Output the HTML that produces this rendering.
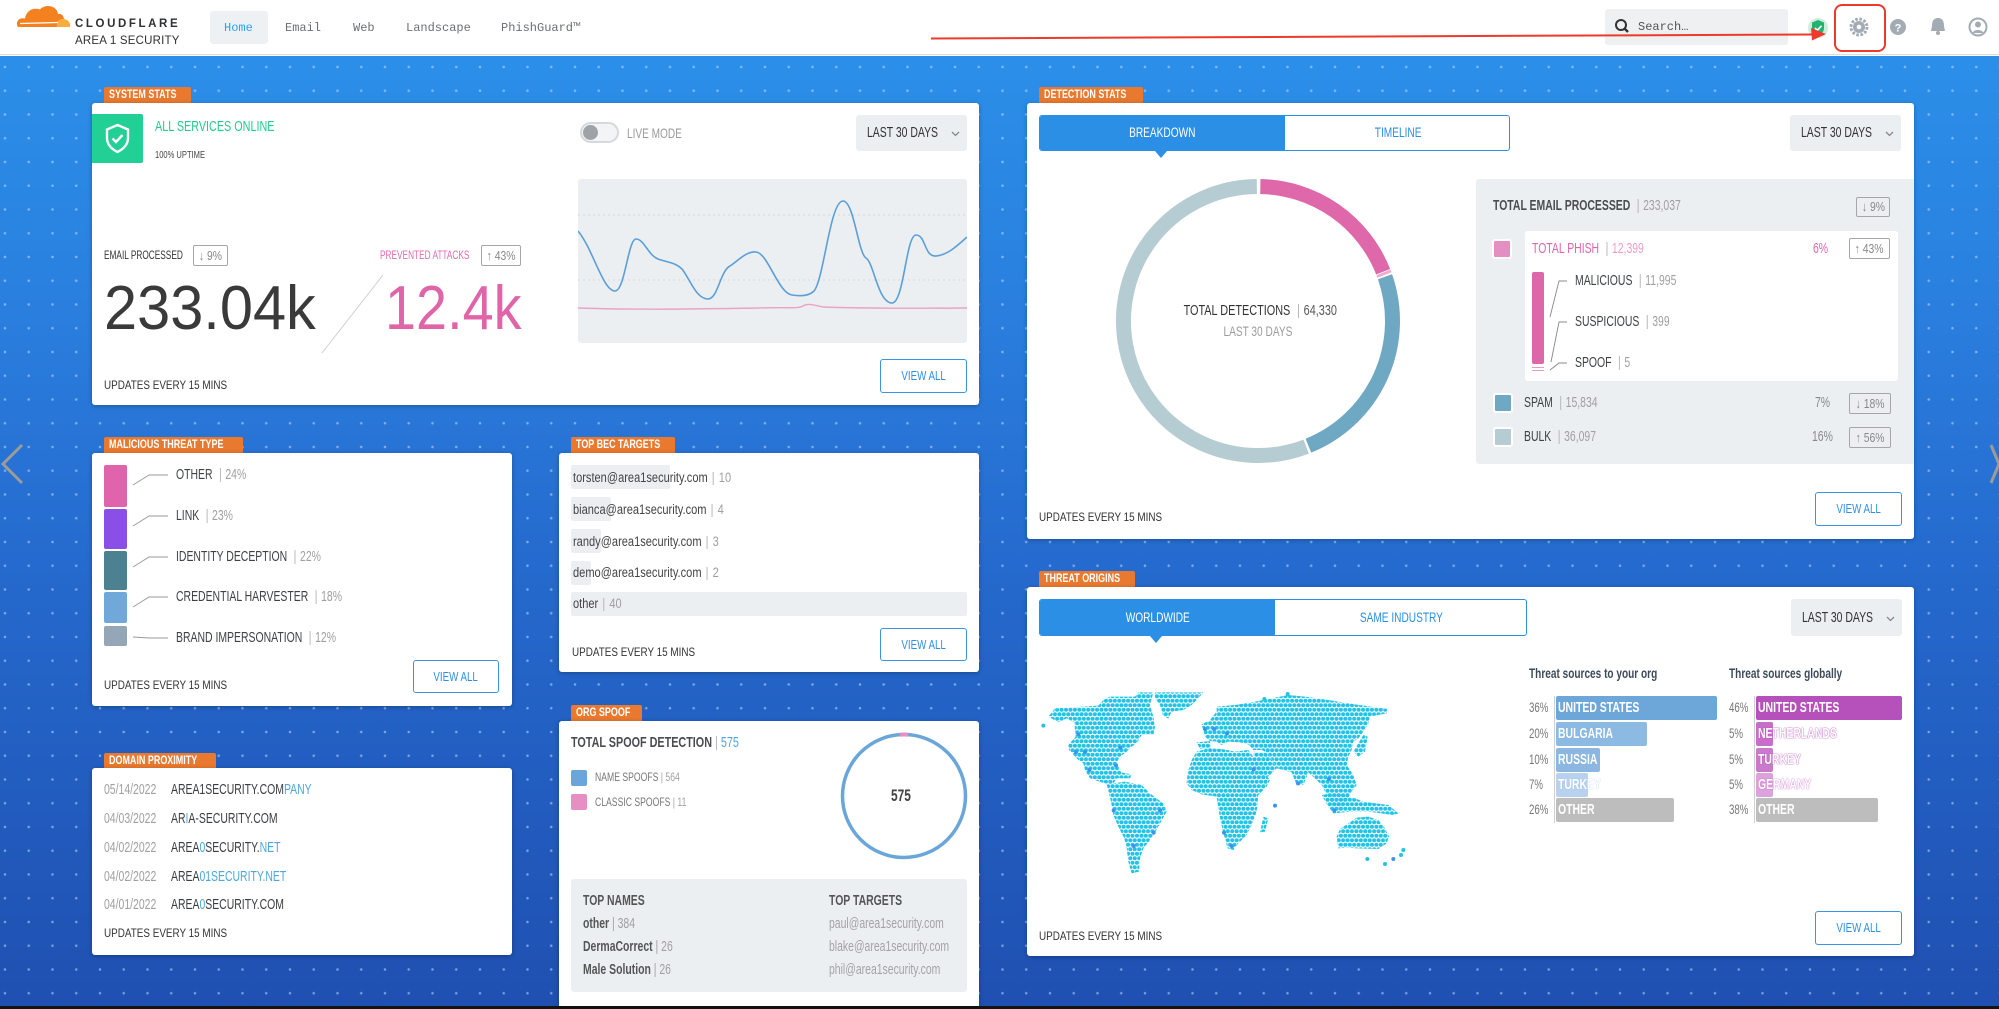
<!DOCTYPE html>
<html><head><meta charset="utf-8">
<style>
*{box-sizing:border-box;margin:0;padding:0}
body{width:1999px;height:1009px;overflow:hidden;font-family:"Liberation Sans",Arial,sans-serif;background:#fff;position:relative}
.a{position:absolute}
.t{position:absolute;white-space:nowrap;line-height:16px;height:16px}
.c{transform:scaleX(.72);transform-origin:0 50%}
.c8{transform:scaleX(.82);transform-origin:0 50%}
.card{position:absolute;background:#fff;border-radius:3px;box-shadow:0 1px 5px rgba(0,0,0,.28)}
.lab{position:absolute;height:16px;background:#e9792e;color:#fff;font-weight:bold;font-size:11.5px;line-height:16px;border-radius:2px 2px 0 0;padding-left:5px;white-space:nowrap;overflow:visible}
.lab span{display:inline-block;transform:scaleX(.78);transform-origin:0 50%}
.btn{position:absolute;border:1px solid #3b93e3;border-radius:3px;color:#2f8fe6;font-size:13px;text-align:center;background:#fff}
.btn span,.cen span{display:inline-block;transform:scaleX(.75)}
.dd{position:absolute;background:#eceff2;border-radius:3px;color:#333;font-size:13px}
.upd{position:absolute;white-space:nowrap;line-height:16px;font-size:11.5px;color:#333;transform:scaleX(.86);transform-origin:0 50%}
.g{color:#a0a0a0}
.sep{color:#b0b0b0;margin:0 5px}
.badge{position:absolute;border:1px solid #a6a6a6;border-radius:2px;color:#888;font-size:13px;text-align:center;background:transparent}
.badge span{display:inline-block;transform:scaleX(.8)}
.nav{position:absolute;top:20px;font-family:"Liberation Mono",monospace;font-size:12px;color:#6b6f73;line-height:16px}
.dk{color:#3e4245}
</style></head><body>

<!-- header -->
<div class="a" style="left:0;top:0;width:1999px;height:55px;background:#fff;border-bottom:1px solid #d6dde5"></div>
<svg class="a" style="left:0;top:0" width="80" height="34">
<path d="M18,27 C15,22 19,17 25,18.5 C26,11 33,7 40,9.5 C45,3.5 57,5.5 58,14 C62,13 65,17 63.5,21 L62,27 Z" fill="#f48120"/>
<path d="M57,27 C56,22 59,18.5 63,19 C68,19 71,23 70,27 Z" fill="#faad3f"/>
<path d="M20,23.5 L58,22.5" stroke="#fff" stroke-width="1.2"/>
</svg>
<div class="t" style="left:75px;top:16px;font-size:11.5px;font-weight:bold;letter-spacing:2.6px;color:#2e3033">CLOUDFLARE</div>
<div class="t" style="left:75px;top:33px;font-size:11.5px;letter-spacing:.2px;color:#2e3033">AREA 1 SECURITY</div>
<div class="a" style="left:210px;top:11px;width:58px;height:33px;background:#eef1f4;border-radius:3px"></div>
<div class="nav" style="left:224px;color:#2aa2f3">Home</div>
<div class="nav" style="left:285px">Email</div>
<div class="nav" style="left:353px">Web</div>
<div class="nav" style="left:406px">Landscape</div>
<div class="nav" style="left:501px">PhishGuard™</div>
<div class="a" style="left:1605px;top:9px;width:183px;height:36px;background:#eef0f2;border-radius:3px"></div>
<svg class="a" style="left:1613px;top:17px" width="20" height="20"><circle cx="8" cy="8" r="5" stroke="#333" stroke-width="2" fill="none"/><path d="M11.5,11.5 L15,15" stroke="#333" stroke-width="2.4"/></svg>
<div class="nav" style="left:1638px;top:19px;color:#555">Search…</div>
<svg class="a" style="left:1800px;top:0" width="199" height="56">
<circle cx="18" cy="28" r="10" fill="#cdeedd"/>
<path d="M18,20 L24,22.5 V28 C24,32 21,34.5 18,36 C15,34.5 12,32 12,28 V22.5 Z" fill="#23b26f"/>
<path d="M15,28 L17.3,30.3 L21.5,25.8" stroke="#fff" stroke-width="1.6" fill="none"/>
<rect x="35" y="5" width="50" height="46" rx="7" fill="none" stroke="#ee3a2b" stroke-width="2"/>
<circle cx="59" cy="27" r="8" fill="none" stroke="#a3acb5" stroke-width="3" stroke-dasharray="2.6 1.6"/>
<circle cx="59" cy="27" r="6" fill="#a3acb5"/><circle cx="59" cy="27" r="2.3" fill="#fff"/>
<circle cx="98" cy="27" r="8" fill="#a3acb5"/>
<text x="98" y="31.5" font-size="11" font-weight="bold" fill="#fff" text-anchor="middle" font-family="Liberation Sans">?</text>
<path d="M138,18 C133,18 132,22 132,26 L131,31 L145,31 L144,26 C144,22 143,18 138,18 Z" fill="#a3acb5"/><circle cx="138" cy="33" r="2" fill="#a3acb5"/>
<circle cx="178" cy="27" r="8.5" fill="none" stroke="#a3acb5" stroke-width="2"/><circle cx="178" cy="24.5" r="3" fill="#a3acb5"/><path d="M172.5,33 C174,29 182,29 183.5,33" fill="#a3acb5"/>
</svg>

<!-- background -->
<div class="a" style="left:0;top:56px;width:1999px;height:950px;background:linear-gradient(180deg,#2b8fe8 0%,#2a80df 25%,#2569cd 55%,#1f50b1 100%)"></div>
<div class="a" style="left:0;top:56px;width:1999px;height:950px;background-image:radial-gradient(circle,rgba(200,225,255,.55) 0.9px,rgba(255,255,255,0) 1.6px);background-size:23.75px 23.75px;background-position:-6.9px -0.9px"></div>
<div class="a" style="left:0;top:1006px;width:1999px;height:3px;background:#141414"></div>

<!-- header arrow -->
<svg class="a" style="left:0;top:0" width="1999" height="60">
<line x1="931" y1="38.5" x2="1813" y2="34.5" stroke="#ee3a2b" stroke-width="2"/>
<polygon points="1826,34 1811,28 1812,40.5" fill="#ee3a2b"/>
</svg>

<!-- chevrons -->
<svg class="a" style="left:0;top:440px" width="30" height="50"><polyline points="22,5 3,24 22,43" fill="none" stroke="#9b9b9b" stroke-width="3"/></svg>
<svg class="a" style="left:1985px;top:440px" width="14" height="50"><polyline points="6,5 14,24 6,43" fill="none" stroke="#9b9b9b" stroke-width="3"/></svg>

<!-- SYSTEM STATS -->
<div class="lab" style="left:104px;top:87px;width:87px"><span>SYSTEM STATS</span></div>
<div class="card" style="left:92px;top:103px;width:887px;height:302px">
 <div class="a" style="left:0;top:11px;width:51px;height:49px;background:#22cf94;border-radius:0 2px 2px 0">
  <svg width="51" height="49"><path d="M25.5,11 L36,15.5 V24 C36,30.5 31.5,35 25.5,38 C19.5,35 15,30.5 15,24 V15.5 Z" fill="none" stroke="#fff" stroke-width="2.4"/><path d="M20.5,24.5 L24,28 L30.5,21" fill="none" stroke="#fff" stroke-width="2.4"/></svg>
 </div>
 <div class="t c" style="left:63px;top:16px;font-size:15px;color:#1fcd8c">ALL SERVICES ONLINE</div>
 <div class="t c" style="left:63px;top:44px;font-size:10.5px;color:#444">100% UPTIME</div>
 <div class="a" style="left:488px;top:19px;width:39px;height:21px;border:2px solid #d5d8dc;border-radius:11px;background:#f3f4f6"><div style="position:absolute;left:1px;top:1px;width:15px;height:15px;border-radius:50%;background:#9ea3a8"></div></div>
 <div class="t c" style="left:535px;top:22px;font-size:14px;color:#9a9a9a">LIVE MODE</div>
 <div class="dd" style="left:764px;top:12px;width:111px;height:36px"><div class="t c" style="left:11px;top:10px;font-size:14.5px">LAST 30 DAYS</div><svg class="a" style="left:95px;top:15px" width="10" height="8"><polyline points="1,2 4.5,5.5 8,2" fill="none" stroke="#888" stroke-width="1.3"/></svg></div>
 <div class="a" style="left:486px;top:76px;width:389px;height:164px;background:#eceff2;border-radius:3px">
  <svg width="389" height="164">
   <line x1="0" y1="36" x2="389" y2="36" stroke="#d4d8dc" stroke-dasharray="2 3"/>
   <line x1="0" y1="101" x2="389" y2="101" stroke="#d4d8dc" stroke-dasharray="2 3"/>
   <path d="M0,52 C15,70 25,112 37,112 C47,112 50,60 58,60 C66,60 70,76 80,80 C92,84 98,84 104,90 C112,100 118,120 130,120 C140,120 142,92 152,87 C160,82 168,72 178,73 C190,74 200,114 214,116 C220,117 230,118 236,112 C246,100 252,22 265,22 C276,22 280,74 288,79 C296,84 300,124 314,124 C326,124 328,56 338,56 C348,56 346,78 358,77 C370,76 380,66 389,58" fill="none" stroke="#5b9fd8" stroke-width="1.6"/>
   <path d="M0,129 C60,131 120,130 180,129 C210,128 220,130 225,127 C230,124 235,126 245,128 C300,130 350,129 389,129" fill="none" stroke="#e9a3c8" stroke-width="1.4"/>
  </svg>
 </div>
 <div class="t c" style="left:12px;top:145px;font-size:11.5px;color:#333">EMAIL PROCESSED</div>
 <div class="badge" style="left:101px;top:142px;width:35px;height:21px;line-height:19px"><span>↓ 9%</span></div>
 <div class="t c" style="left:288px;top:145px;font-size:11.5px;color:#e46bae">PREVENTED ATTACKS</div>
 <div class="badge" style="left:389px;top:142px;width:40px;height:21px;line-height:19px"><span>↑ 43%</span></div>
 <div class="a" style="left:12px;top:175px;font-size:62px;line-height:62px;color:#3a3a3a;white-space:nowrap;transform:scaleX(.96);transform-origin:0 50%">233.04k</div>
 <div class="a" style="left:293px;top:175px;font-size:62px;line-height:62px;color:#e064a8;white-space:nowrap;transform:scaleX(.9);transform-origin:0 50%">12.4k</div>
 <svg class="a" style="left:0;top:0" width="400" height="300"><line x1="291" y1="172" x2="230" y2="250" stroke="#d0d0d0" stroke-width="1"/></svg>
 <div class="upd" style="left:12px;top:275px">UPDATES EVERY 15 MINS</div>
 <div class="btn" style="left:788px;top:256px;width:87px;height:34px;line-height:32px"><span>VIEW ALL</span></div>
</div>

<!-- DETECTION STATS -->
<div class="lab" style="left:1039px;top:87px;width:104px"><span>DETECTION STATS</span></div>
<div class="card" style="left:1027px;top:103px;width:887px;height:436px">
 <div class="a" style="left:12px;top:12px;width:471px;height:36px;border:1px solid #2b8fe6;border-radius:3px;overflow:hidden;background:#fff">
  <div class="a cen" style="left:0;top:0;width:245px;height:36px;background:#2b8fe6;color:#fff;font-size:13.5px;line-height:34px;text-align:center"><span>BREAKDOWN</span></div>
  <div class="a cen" style="left:245px;top:0;width:226px;height:36px;color:#2b8fe6;font-size:13.5px;line-height:34px;text-align:center"><span>TIMELINE</span></div>
 </div>
 <div class="a" style="left:128px;top:48px;width:0;height:0;border-left:6px solid transparent;border-right:6px solid transparent;border-top:7px solid #2b8fe6"></div>
 <div class="dd" style="left:763px;top:12px;width:111px;height:36px"><div class="t c" style="left:11px;top:10px;font-size:14.5px">LAST 30 DAYS</div><svg class="a" style="left:95px;top:15px" width="10" height="8"><polyline points="1,2 4.5,5.5 8,2" fill="none" stroke="#888" stroke-width="1.3"/></svg></div>
 <svg class="a" style="left:0;top:0" width="460" height="440">
  <path d="M233.35,83.52 A134.5,134.5 0 0 1 356.14,168.71" fill="none" stroke="#de68aa" stroke-width="15"/>
  <path d="M356.4,169.5 A134.5,134.5 0 0 1 357.39,172.0" fill="none" stroke="#f0a9cf" stroke-width="15"/>
  <path d="M358.02,173.77 A134.5,134.5 0 0 1 281.38,342.71" fill="none" stroke="#6fa8c3" stroke-width="15"/>
  <path d="M279.20,343.57 A134.5,134.5 0 1 1 229.83,83.51" fill="none" stroke="#b6ccd3" stroke-width="15"/>
 </svg>
 <div class="t" style="left:131px;top:200px;width:200px;text-align:center;font-size:14.5px;color:#333"><span style="display:inline-block;transform:scaleX(.75)">TOTAL DETECTIONS <span class="sep">|</span><span style="color:#555">64,330</span></span></div>
 <div class="t" style="left:131px;top:221px;width:200px;text-align:center;font-size:13.5px;color:#9b9b9b"><span style="display:inline-block;transform:scaleX(.75)">LAST 30 DAYS</span></div>
 <div class="a" style="left:449px;top:76px;width:438px;height:285px;background:#eceff2;border-radius:3px 0 0 3px">
  <div class="t c" style="left:17px;top:19px;font-size:14.5px;font-weight:bold;color:#4a4d50">TOTAL EMAIL PROCESSED <span class="sep" style="font-weight:normal">|</span><span class="g" style="font-weight:normal">233,037</span></div>
  <div class="badge" style="left:380px;top:18px;width:34px;height:20px;line-height:18px"><span>↓ 9%</span></div>
  <div class="a" style="left:16px;top:60px;width:20px;height:20px;background:#e38fc2;border:2px solid #fff;border-radius:3px"></div>
  <div class="a" style="left:49px;top:52px;width:373px;height:150px;background:#fff;border-radius:3px">
   <div class="t c" style="left:7px;top:10px;font-size:14.5px;color:#e064a8">TOTAL PHISH <span class="sep">|</span><span style="color:#ee9ccb">12,399</span></div>
   <div class="t c" style="left:288px;top:10px;font-size:14.5px;color:#e064a8">6%</div>
   <div class="badge" style="left:324px;top:7px;width:41px;height:21px;line-height:19px"><span>↑ 43%</span></div>
   <div class="a" style="left:7px;top:41px;width:12px;height:92px;background:#de67aa;border-radius:2px"></div>
   <div class="a" style="left:7px;top:136px;width:12px;height:1px;background:#e89ac5"></div>
   <div class="a" style="left:7px;top:139px;width:12px;height:1px;background:#e89ac5"></div>
   <svg class="a" style="left:0;top:0" width="60" height="150"><polyline points="25,86 34,50 42,50" fill="none" stroke="#888" stroke-width="0.9"/><polyline points="26,131 34,91 42,91" fill="none" stroke="#888" stroke-width="0.9"/><polyline points="25,139 34,132 42,132" fill="none" stroke="#888" stroke-width="0.9"/></svg>
   <div class="t c dk" style="left:50px;top:42px;font-size:14.5px">MALICIOUS <span class="sep">|</span><span class="g">11,995</span></div>
   <div class="t c dk" style="left:50px;top:83px;font-size:14.5px">SUSPICIOUS <span class="sep">|</span><span class="g">399</span></div>
   <div class="t c dk" style="left:50px;top:124px;font-size:14.5px">SPOOF <span class="sep">|</span><span class="g">5</span></div>
  </div>
  <div class="a" style="left:17px;top:214px;width:20px;height:20px;background:#6fa8c3;border:2px solid #fff;border-radius:3px"></div>
  <div class="t c dk" style="left:48px;top:216px;font-size:14.5px">SPAM <span class="sep">|</span><span class="g">15,834</span></div>
  <div class="t c" style="left:339px;top:216px;font-size:14.5px;color:#888">7%</div>
  <div class="badge" style="left:373px;top:214px;width:42px;height:21px;line-height:19px"><span>↓ 18%</span></div>
  <div class="a" style="left:17px;top:248px;width:20px;height:20px;background:#b6ccd3;border:2px solid #fff;border-radius:3px"></div>
  <div class="t c dk" style="left:48px;top:250px;font-size:14.5px">BULK <span class="sep">|</span><span class="g">36,097</span></div>
  <div class="t c" style="left:336px;top:250px;font-size:14.5px;color:#888">16%</div>
  <div class="badge" style="left:373px;top:248px;width:42px;height:21px;line-height:19px"><span>↑ 56%</span></div>
 </div>
 <div class="upd" style="left:12px;top:407px">UPDATES EVERY 15 MINS</div>
 <div class="btn" style="left:788px;top:389px;width:87px;height:34px;line-height:32px"><span>VIEW ALL</span></div>
</div>

<!-- MALICIOUS THREAT TYPE -->
<div class="lab" style="left:104px;top:437px;width:139px"><span>MALICIOUS THREAT TYPE</span></div>
<div class="card" style="left:92px;top:453px;width:420px;height:253px">
 <div class="a" style="left:12px;top:12px;width:23px;height:42px;background:#e064ab;border-radius:2px"></div>
 <div class="a" style="left:12px;top:56px;width:23px;height:40px;background:#8a4fe6;border-radius:2px"></div>
 <div class="a" style="left:12px;top:98px;width:23px;height:39px;background:#4b8190;border-radius:2px"></div>
 <div class="a" style="left:12px;top:139px;width:23px;height:31px;background:#70a8da;border-radius:2px"></div>
 <div class="a" style="left:12px;top:173px;width:23px;height:20px;background:#95a6b6;border-radius:2px"></div>
 <svg class="a" style="left:0;top:0" width="90" height="200" fill="none" stroke="#999" stroke-width="0.9">
  <polyline points="41,32 57,22 76,22"/><polyline points="41,73 57,63 76,63"/><polyline points="41,114 57,104 76,104"/><polyline points="41,154 57,144 76,144"/><polyline points="41,184 57,185 76,185"/>
 </svg>
 <div class="t c dk" style="left:84px;top:14px;font-size:14.5px">OTHER <span class="sep">|</span><span class="g">24%</span></div>
 <div class="t c dk" style="left:84px;top:55px;font-size:14.5px">LINK <span class="sep">|</span><span class="g">23%</span></div>
 <div class="t c dk" style="left:84px;top:96px;font-size:14.5px">IDENTITY DECEPTION <span class="sep">|</span><span class="g">22%</span></div>
 <div class="t c dk" style="left:84px;top:136px;font-size:14.5px">CREDENTIAL HARVESTER <span class="sep">|</span><span class="g">18%</span></div>
 <div class="t c dk" style="left:84px;top:177px;font-size:14.5px">BRAND IMPERSONATION <span class="sep">|</span><span class="g">12%</span></div>
 <div class="upd" style="left:12px;top:225px">UPDATES EVERY 15 MINS</div>
 <div class="btn" style="left:321px;top:207px;width:86px;height:33px;line-height:31px"><span>VIEW ALL</span></div>
</div>

<!-- TOP BEC TARGETS -->
<div class="lab" style="left:571px;top:437px;width:104px"><span>TOP BEC TARGETS</span></div>
<div class="card" style="left:559px;top:453px;width:420px;height:219px">
 <div class="a" style="left:12px;top:12px;width:99px;height:24px;background:#eceff2;border-radius:2px"></div>
 <div class="a" style="left:12px;top:44px;width:40px;height:24px;background:#eceff2;border-radius:2px"></div>
 <div class="a" style="left:12px;top:76px;width:30px;height:24px;background:#eceff2;border-radius:2px"></div>
 <div class="a" style="left:12px;top:108px;width:20px;height:24px;background:#eceff2;border-radius:2px"></div>
 <div class="a" style="left:12px;top:139px;width:396px;height:24px;background:#eceff2;border-radius:2px"></div>
 <div class="t c8" style="left:14px;top:17px;font-size:13.5px;color:#444">torsten@area1security.com<span class="sep">|</span><span class="g">10</span></div>
 <div class="t c8" style="left:14px;top:49px;font-size:13.5px;color:#444">bianca@area1security.com<span class="sep">|</span><span class="g">4</span></div>
 <div class="t c8" style="left:14px;top:81px;font-size:13.5px;color:#444">randy@area1security.com<span class="sep">|</span><span class="g">3</span></div>
 <div class="t c8" style="left:14px;top:112px;font-size:13.5px;color:#444">demo@area1security.com<span class="sep">|</span><span class="g">2</span></div>
 <div class="t c8" style="left:14px;top:143px;font-size:13.5px;color:#444">other<span class="sep">|</span><span class="g">40</span></div>
 <div class="upd" style="left:13px;top:192px">UPDATES EVERY 15 MINS</div>
 <div class="btn" style="left:321px;top:175px;width:87px;height:33px;line-height:31px"><span>VIEW ALL</span></div>
</div>

<!-- ORG SPOOF -->
<div class="lab" style="left:571px;top:705px;width:71px"><span>ORG SPOOF</span></div>
<div class="card" style="left:559px;top:721px;width:420px;height:285px;border-radius:3px 3px 0 0">
 <div class="t c" style="left:12px;top:14px;font-size:15px;font-weight:bold;color:#4a4d50">TOTAL SPOOF DETECTION <span style="font-weight:normal;color:#b0b0b0">|</span> <span style="font-weight:normal;color:#5aa2dc">575</span></div>
 <div class="a" style="left:12px;top:49px;width:16px;height:16px;background:#6aa6d9;border-radius:2px"></div>
 <div class="t c" style="left:36px;top:48px;font-size:12px;color:#777">NAME SPOOFS <span class="g">| 564</span></div>
 <div class="a" style="left:12px;top:73px;width:16px;height:16px;background:#e58fc3;border-radius:2px"></div>
 <div class="t c" style="left:36px;top:73px;font-size:12px;color:#777">CLASSIC SPOOFS <span class="g">| 11</span></div>
 <svg class="a" style="left:270px;top:0" width="150" height="150">
  <circle cx="75" cy="75" r="61.5" fill="none" stroke="#6aa6d9" stroke-width="3.5"/>
  <path d="M70.7,13.65 A61.5,61.5 0 0 1 79.3,13.65" fill="none" stroke="#e58fc3" stroke-width="4"/>
 </svg>
 <div class="t c" style="left:332px;top:67px;font-size:16.5px;font-weight:bold;color:#444">575</div>
 <div class="a" style="left:12px;top:158px;width:396px;height:113px;background:#eceff2;border-radius:3px">
  <div class="t c" style="left:12px;top:14px;font-size:14.5px;font-weight:bold;color:#555">TOP NAMES</div>
  <div class="t c" style="left:12px;top:37px;font-size:14.5px;font-weight:bold;color:#555">other <span style="font-weight:normal" class="g">| 384</span></div>
  <div class="t c" style="left:12px;top:60px;font-size:14.5px;font-weight:bold;color:#555">DermaCorrect <span style="font-weight:normal" class="g">| 26</span></div>
  <div class="t c" style="left:12px;top:83px;font-size:14.5px;font-weight:bold;color:#555">Male Solution <span style="font-weight:normal" class="g">| 26</span></div>
  <div class="t c" style="left:258px;top:14px;font-size:14.5px;font-weight:bold;color:#555">TOP TARGETS</div>
  <div class="t c" style="left:258px;top:37px;font-size:14.5px;color:#a3a3a3">paul@area1security.com</div>
  <div class="t c" style="left:258px;top:60px;font-size:14.5px;color:#a3a3a3">blake@area1security.com</div>
  <div class="t c" style="left:258px;top:83px;font-size:14.5px;color:#a3a3a3">phil@area1security.com</div>
 </div>
</div>

<!-- DOMAIN PROXIMITY -->
<div class="lab" style="left:104px;top:753px;width:112px"><span>DOMAIN PROXIMITY</span></div>
<div class="card" style="left:92px;top:768px;width:420px;height:187px">
 <div class="t c" style="left:12px;top:14px;font-size:14.5px;color:#a0a0a0">05/14/2022</div>
 <div class="t c" style="left:79px;top:14px;font-size:14.5px;color:#3a3d40">AREA1SECURITY.COM<span style="color:#4ea6dc">PANY</span></div>
 <div class="t c" style="left:12px;top:43px;font-size:14.5px;color:#a0a0a0">04/03/2022</div>
 <div class="t c" style="left:79px;top:43px;font-size:14.5px;color:#3a3d40">AR<span style="color:#4ea6dc">I</span>A-SECURITY.COM</div>
 <div class="t c" style="left:12px;top:72px;font-size:14.5px;color:#a0a0a0">04/02/2022</div>
 <div class="t c" style="left:79px;top:72px;font-size:14.5px;color:#3a3d40">AREA<span style="color:#4ea6dc">0</span>SECURITY.<span style="color:#4ea6dc">NET</span></div>
 <div class="t c" style="left:12px;top:101px;font-size:14.5px;color:#a0a0a0">04/02/2022</div>
 <div class="t c" style="left:79px;top:101px;font-size:14.5px;color:#3a3d40">AREA<span style="color:#4ea6dc">01SECURITY.NET</span></div>
 <div class="t c" style="left:12px;top:129px;font-size:14.5px;color:#a0a0a0">04/01/2022</div>
 <div class="t c" style="left:79px;top:129px;font-size:14.5px;color:#3a3d40">AREA<span style="color:#4ea6dc">0</span>SECURITY.COM</div>
 <div class="upd" style="left:12px;top:158px">UPDATES EVERY 15 MINS</div>
</div>

<!-- THREAT ORIGINS -->
<div class="lab" style="left:1039px;top:571px;width:96px"><span>THREAT ORIGINS</span></div>
<div class="card" style="left:1027px;top:587px;width:887px;height:369px">
 <div class="a" style="left:12px;top:12px;width:488px;height:37px;border:1px solid #2b8fe6;border-radius:3px;overflow:hidden;background:#fff">
  <div class="a cen" style="left:0;top:0;width:235px;height:37px;background:#2b8fe6;color:#fff;font-size:13.5px;line-height:35px;text-align:center"><span>WORLDWIDE</span></div>
  <div class="a cen" style="left:235px;top:0;width:253px;height:37px;color:#2b8fe6;font-size:13.5px;line-height:35px;text-align:center"><span>SAME INDUSTRY</span></div>
 </div>
 <div class="a" style="left:123px;top:49px;width:0;height:0;border-left:6px solid transparent;border-right:6px solid transparent;border-top:7px solid #2b8fe6"></div>
 <div class="dd" style="left:764px;top:12px;width:111px;height:37px"><div class="t c" style="left:11px;top:11px;font-size:14.5px">LAST 30 DAYS</div><svg class="a" style="left:95px;top:16px" width="10" height="8"><polyline points="1,2 4.5,5.5 8,2" fill="none" stroke="#888" stroke-width="1.3"/></svg></div>

 <svg class="a" style="left:8px;top:98px" width="380" height="195" viewBox="0 0 1140 585">
  <defs><pattern id="hx" width="13.3" height="27" patternUnits="userSpaceOnUse"><circle cx="6.65" cy="6.75" r="6.1" fill="#22c3e6"/><circle cx="0" cy="20.25" r="6.1" fill="#22c3e6"/><circle cx="13.3" cy="20.25" r="6.1" fill="#22c3e6"/></pattern></defs>
  <g fill="url(#hx)">
   <path d="M40,95 L60,70 L190,62 L205,45 L225,35 L300,35 L310,22 L355,22 L345,60 L355,95 L360,125 L355,150 L320,150 L305,175 L290,185 L275,200 L255,215 L245,232 L258,262 L290,268 L285,280 L245,280 L232,300 L200,292 L165,280 L150,255 L145,235 L130,225 L102,195 L100,180 L122,155 L118,112 L95,100 L70,112 Z"/>
   <path d="M360,22 L505,22 L490,40 L470,60 L445,75 L410,80 L400,100 L385,95 L375,60 L360,40 Z"/>
   <path d="M215,298 L270,290 L320,300 L345,325 L385,355 L395,380 L378,410 L362,440 L345,465 L325,490 L315,520 L312,560 L290,565 L280,530 L275,490 L268,460 L250,425 L235,390 L228,350 Z"/>
   <path d="M500,118 L525,105 L545,80 L545,65 L600,60 L660,50 L700,42 L760,30 L810,35 L880,45 L960,58 L1058,72 L1055,85 L1005,95 L1000,115 L985,140 L970,160 L955,170 L950,195 L940,215 L935,240 L955,270 L965,300 L950,320 L935,345 L915,380 L895,378 L888,350 L870,320 L860,300 L840,280 L820,262 L805,300 L785,300 L770,262 L745,255 L725,250 L715,230 L700,205 L680,195 L655,195 L640,178 L615,172 L580,170 L560,180 L545,170 L525,168 L510,155 Z"/>
   <path d="M485,172 L525,168 L528,190 L495,192 Z"/>
   <path d="M458,262 L470,225 L485,200 L520,190 L560,192 L600,200 L640,195 L655,215 L680,255 L705,285 L695,305 L670,330 L665,380 L650,420 L635,450 L610,475 L595,495 L578,490 L568,455 L558,415 L550,370 L545,335 L500,328 L470,315 L455,295 Z"/>
   <path d="M655,200 L700,205 L725,250 L700,275 L675,275 L660,240 Z"/>
   <path d="M685,395 L700,400 L690,440 L675,442 Z"/>
   <path d="M905,455 L915,432 L945,412 L965,398 L1000,395 L1030,405 L1050,430 L1062,455 L1055,475 L1030,492 L965,490 L935,488 L910,490 Z"/>
   <path d="M860,330 L905,322 L960,340 L985,350 L1060,360 L1090,385 L1075,390 L1000,380 L950,380 L895,385 L880,365 Z"/>
   <path d="M955,200 L985,150 L998,155 L990,200 L970,215 Z"/>
  </g>
  <g fill="#22c3e6"><circle cx="25" cy="122" r="6"/><circle cx="1105" cy="495" r="6"/><circle cx="1098" cy="510" r="6"/><circle cx="1050" cy="537" r="6"/><circle cx="997" cy="522" r="6"/><circle cx="758" cy="27" r="6"/><circle cx="688" cy="42" r="6"/></g>
  <g fill="#3d93f0"><circle cx="1075" cy="522" r="6"/><circle cx="720" cy="362" r="6"/><circle cx="123" cy="201" r="6"/><circle cx="150" cy="201" r="6"/><circle cx="256" cy="188" r="6"/><circle cx="130" cy="148" r="6"/><circle cx="163" cy="255" r="6"/><circle cx="243" cy="241" r="6"/><circle cx="236" cy="376" r="6"/><circle cx="375" cy="376" r="6"/><circle cx="356" cy="443" r="6"/><circle cx="296" cy="483" r="6"/><circle cx="510" cy="132" r="6"/><circle cx="537" cy="132" r="6"/><circle cx="576" cy="145" r="6"/><circle cx="656" cy="253" r="6"/><circle cx="789" cy="295" r="6"/><circle cx="882" cy="282" r="6"/><circle cx="898" cy="376" r="6"/><circle cx="567" cy="443" r="6"/><circle cx="590" cy="483" r="6"/></g>
 </svg>

 <div class="t c" style="left:502px;top:78px;font-size:14px;font-weight:bold;color:#3c4a5a">Threat sources to your org</div>
 <div class="t c" style="left:702px;top:78px;font-size:14px;font-weight:bold;color:#3c4a5a">Threat sources globally</div>
 <div class="a" style="left:527px;top:109px;width:1px;height:127px;background:#d0d0d0"></div>
 <div class="a" style="left:727px;top:109px;width:1px;height:127px;background:#d0d0d0"></div>
 <div class="a" style="left:529px;top:109px;width:161px;height:24px;background:#6da7da;border-radius:2px"></div>
 <div class="a" style="left:529px;top:135px;width:91px;height:24px;background:#8dbae3;border-radius:2px"></div>
 <div class="a" style="left:529px;top:161px;width:44px;height:24px;background:#8db7e0;border-radius:2px"></div>
 <div class="a" style="left:529px;top:186px;width:32px;height:24px;background:#b8d2ee;border-radius:2px"></div>
 <div class="a" style="left:529px;top:211px;width:118px;height:24px;background:#bdbdbd;border-radius:2px"></div>
 <div class="a" style="left:729px;top:109px;width:146px;height:24px;background:#b650bb;border-radius:2px"></div>
 <div class="a" style="left:729px;top:135px;width:17px;height:24px;background:#c76fc8;border-radius:2px"></div>
 <div class="a" style="left:729px;top:161px;width:17px;height:24px;background:#cb7acb;border-radius:2px"></div>
 <div class="a" style="left:729px;top:186px;width:17px;height:24px;background:#dca2dc;border-radius:2px"></div>
 <div class="a" style="left:729px;top:211px;width:122px;height:24px;background:#bdbdbd;border-radius:2px"></div>
 <div class="t c" style="left:502px;top:113px;font-size:13.5px;color:#777">36%</div>
 <div class="t c" style="left:502px;top:139px;font-size:13.5px;color:#777">20%</div>
 <div class="t c" style="left:502px;top:165px;font-size:13.5px;color:#777">10%</div>
 <div class="t c" style="left:502px;top:190px;font-size:13.5px;color:#777">7%</div>
 <div class="t c" style="left:502px;top:215px;font-size:13.5px;color:#777">26%</div>
 <div class="t c" style="left:702px;top:113px;font-size:13.5px;color:#777">46%</div>
 <div class="t c" style="left:702px;top:139px;font-size:13.5px;color:#777">5%</div>
 <div class="t c" style="left:702px;top:165px;font-size:13.5px;color:#777">5%</div>
 <div class="t c" style="left:702px;top:190px;font-size:13.5px;color:#777">5%</div>
 <div class="t c" style="left:702px;top:215px;font-size:13.5px;color:#777">38%</div>
 <div class="t c" style="left:531px;top:113px;font-size:14.5px;font-weight:bold;color:#fff">UNITED STATES</div>
 <div class="t c" style="left:531px;top:139px;font-size:14.5px;font-weight:bold;color:#fff;text-shadow:0 0 1px #6da7da">BULGARIA</div>
 <div class="t c" style="left:531px;top:165px;font-size:14.5px;font-weight:bold;color:#fff;text-shadow:0 0 1px #6da7da">RUSSIA</div>
 <div class="t c" style="left:531px;top:190px;font-size:14.5px;font-weight:bold;color:#fff;text-shadow:0 0 1px #8db7e0">TURKEY</div>
 <div class="t c" style="left:531px;top:215px;font-size:14.5px;font-weight:bold;color:#fff">OTHER</div>
 <div class="t c" style="left:731px;top:113px;font-size:14.5px;font-weight:bold;color:#fff">UNITED STATES</div>
 <div class="t c" style="left:731px;top:139px;font-size:14.5px;font-weight:bold;color:#fff;text-shadow:0 0 1.5px #b650bb,0 0 1px #b650bb">NETHERLANDS</div>
 <div class="t c" style="left:731px;top:165px;font-size:14.5px;font-weight:bold;color:#fff;text-shadow:0 0 1.5px #b650bb,0 0 1px #b650bb">TURKEY</div>
 <div class="t c" style="left:731px;top:190px;font-size:14.5px;font-weight:bold;color:#fff;text-shadow:0 0 1.5px #c76fc8,0 0 1px #c76fc8">GERMANY</div>
 <div class="t c" style="left:731px;top:215px;font-size:14.5px;font-weight:bold;color:#fff">OTHER</div>
 <div class="upd" style="left:12px;top:342px">UPDATES EVERY 15 MINS</div>
 <div class="btn" style="left:788px;top:324px;width:87px;height:34px;line-height:32px"><span>VIEW ALL</span></div>
</div>

</body></html>
